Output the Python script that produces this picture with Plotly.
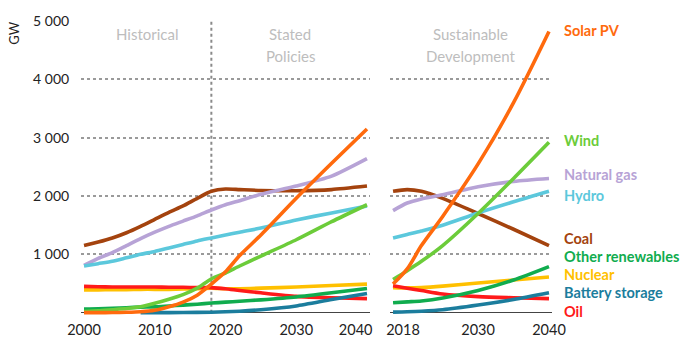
import plotly.graph_objects as go

# ---------------- data ----------------
years_sp = [2000, 2002, 2004, 2006, 2008, 2010, 2012, 2014, 2016, 2018, 2020, 2022, 2025, 2030, 2035, 2040]
coal_sp = [1150, 1210, 1280, 1370, 1480, 1600, 1720, 1830, 1960, 2080, 2120, 2110, 2095, 2090, 2110, 2170]
gas_sp = [810, 930, 1030, 1150, 1270, 1380, 1480, 1570, 1660, 1760, 1850, 1920, 2030, 2170, 2340, 2640]
hydro_sp = [800, 840, 880, 940, 1000, 1050, 1110, 1170, 1230, 1280, 1330, 1380, 1450, 1590, 1710, 1830]
wind_sp = [20, 30, 50, 70, 100, 160, 230, 310, 420, 580, 680, 800, 970, 1250, 1560, 1850]
solar_sp = [0, 0, 2, 6, 15, 40, 100, 180, 300, 490, 700, 980, 1330, 1960, 2560, 3150]
oil_sp = [450, 445, 440, 440, 440, 440, 435, 435, 430, 430, 410, 380, 340, 280, 255, 240]
nuclear_sp = [390, 390, 395, 395, 400, 400, 400, 405, 410, 420, 410, 410, 420, 440, 465, 490]
other_sp = [60, 65, 75, 85, 95, 100, 115, 130, 145, 165, 180, 195, 220, 270, 340, 415]
years_batt_sp = [2008, 2010, 2014, 2018, 2020, 2022, 2025, 2030, 2035, 2040]
battery_sp = [0, 0, 2, 8, 15, 25, 50, 115, 225, 330]

years_sds = [2018, 2020, 2022, 2025, 2030, 2035, 2040]
solar_sds = [490, 750, 1150, 1650, 2550, 3600, 4820]
wind_sds = [570, 720, 880, 1150, 1700, 2300, 2920]
gas_sds = [1750, 1880, 1950, 2020, 2160, 2250, 2300]
hydro_sds = [1280, 1340, 1400, 1500, 1710, 1900, 2080]
coal_sds = [2080, 2110, 2080, 1960, 1700, 1430, 1150]
other_sds = [170, 185, 200, 250, 380, 560, 790]
nuclear_sds = [430, 425, 430, 455, 510, 560, 610]
battery_sds = [10, 15, 25, 50, 130, 225, 340]
oil_sds = [460, 420, 380, 320, 275, 255, 240]

names = ["Solar PV", "Wind", "Natural gas", "Hydro", "Coal",
         "Other renewables", "Nuclear", "Battery storage", "Oil"]
colors = {
    "Solar PV": "#ff6a0d",
    "Wind": "#6ccc3a",
    "Natural gas": "#b7a3d6",
    "Hydro": "#5cc8dc",
    "Coal": "#a4430e",
    "Other renewables": "#10ac4e",
    "Nuclear": "#ffc000",
    "Battery storage": "#1b7d9d",
    "Oil": "#ff1a1a",
}

sp_series = {
    "Coal": (years_sp, coal_sp),
    "Natural gas": (years_sp, gas_sp),
    "Hydro": (years_sp, hydro_sp),
    "Nuclear": (years_sp, nuclear_sp),
    "Oil": (years_sp, oil_sp),
    "Other renewables": (years_sp, other_sp),
    "Battery storage": (years_batt_sp, battery_sp),
    "Wind": (years_sp, wind_sp),
    "Solar PV": (years_sp, solar_sp),
}
sds_series = {
    "Coal": coal_sds,
    "Natural gas": gas_sds,
    "Hydro": hydro_sds,
    "Nuclear": nuclear_sds,
    "Oil": oil_sds,
    "Other renewables": other_sds,
    "Battery storage": battery_sds,
    "Wind": wind_sds,
    "Solar PV": solar_sds,
}

y_tickvals = [1000, 2000, 3000, 4000, 5000]
y_ticktext = ["1 000", "2 000", "3 000", "4 000", "5 000"]
# edge labels are nudged inward as in the original so they do not collide
x_tickvals_left = [2000, 2010, 2020, 2030, 2038.4]
x_ticktext_left = ["2000", "2010", "2020", "2030", "2040"]
x_tickvals_right = [2019.4, 2030, 2040]
x_ticktext_right = ["2018", "2030", "2040"]

# vertical pixel centre of each right-hand label
label_ypx = {
    "Solar PV": 25, "Wind": 137, "Natural gas": 172, "Hydro": 193,
    "Coal": 236.5, "Other renewables": 255.5, "Nuclear": 273.5,
    "Battery storage": 292, "Oil": 311,
}

# ---------------- figure ----------------
FONT = "Lato"
fig = go.Figure()
LW = 3.6

for n, (xs, ys) in sp_series.items():
    fig.add_trace(go.Scatter(x=xs, y=ys, mode="lines", xaxis="x", yaxis="y",
                             line=dict(color=colors[n], width=LW, shape="spline", smoothing=0.6),
                             showlegend=False, hoverinfo="skip"))
for n, ys in sds_series.items():
    fig.add_trace(go.Scatter(x=years_sds, y=ys, mode="lines", xaxis="x2", yaxis="y2",
                             line=dict(color=colors[n], width=LW, shape="spline", smoothing=0.8),
                             showlegend=False, hoverinfo="skip"))

yax = dict(range=[-40, 5000], tickvals=y_tickvals, ticktext=y_ticktext,
           showgrid=True, gridcolor="#9a9a9a", griddash="dot", gridwidth=1.5,
           zeroline=True, zerolinecolor="#444", zerolinewidth=1,
           showline=False, ticks="", fixedrange=True,
           tickfont=dict(family=FONT, size=14, color="#222"))

fig.update_layout(
    width=694, height=351,
    margin=dict(l=81, r=142, t=15, b=36),
    paper_bgcolor="white", plot_bgcolor="white",
    xaxis=dict(domain=[0.0004, 0.6132], range=[1999.6, 2040.4],
               tickvals=x_tickvals_left, ticktext=x_ticktext_left,
               showgrid=False, zeroline=False, showline=False, ticks="",
               ticklabelstandoff=4,
               tickfont=dict(family=FONT, size=14.5, color="#222")),
    xaxis2=dict(domain=[0.6565, 0.9996], range=[2017.6, 2040.4],
                tickvals=x_tickvals_right, ticktext=x_ticktext_right,
                showgrid=False, zeroline=False, showline=False, ticks="", anchor="y2",
                ticklabelstandoff=4,
                tickfont=dict(family=FONT, size=14.5, color="#222")),
    yaxis=dict(**yax, ticklabelstandoff=11),
    yaxis2=dict(**yax, anchor="x2", showticklabels=False),
)

# 2018 divider in the left panel
fig.add_shape(type="line", xref="x", yref="y", x0=2018, x1=2018, y0=0, y1=5000,
              line=dict(color="#8a8a8a", width=2, dash="dot"), layer="below")

# panel captions
grey = "#bdbdbd"
def cap(text, xpx, ypx, size=15):
    fig.add_annotation(text=text, xref="paper", yref="paper",
                       x=(xpx - 81) / 471, y=(315 - ypx) / 300,
                       xanchor="center", yanchor="middle", showarrow=False,
                       font=dict(family=FONT, size=size, color=grey))

cap("Historical", 147, 28)
cap("Stated", 290, 28)
cap("Policies", 290, 51)
cap("Sustainable", 470, 28)
cap("Development", 470, 51)

# unit
fig.add_annotation(text="GW", xref="paper", yref="paper", x=(14 - 81) / 471, y=(315 - 28) / 300,
                   textangle=-90, showarrow=False, xanchor="center", yanchor="middle",
                   font=dict(family=FONT, size=13, color="#222"))

# series labels on the right
for n in names:
    fig.add_annotation(text="<b>%s</b>" % n, xref="paper", yref="paper",
                       x=(562 - 81) / 471, y=(315 - label_ypx[n]) / 300,
                       xanchor="left", yanchor="middle", showarrow=False,
                       font=dict(family=FONT, size=14.5, color=colors[n]))

fig.write_html("out.html")
